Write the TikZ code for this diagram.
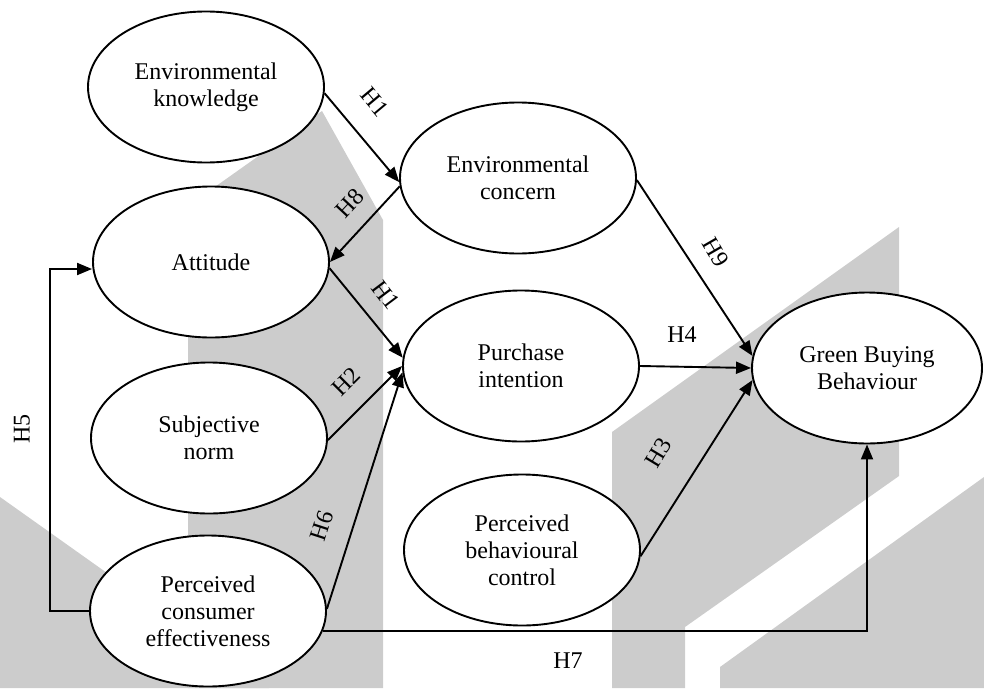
\documentclass[tikz,border=0pt]{standalone}
\usepackage{fontspec}
\setmainfont{Liberation Serif}
\usetikzlibrary{shapes.geometric,arrows.meta}
\definecolor{bandgray}{HTML}{CCCCCC}
\begin{document}
\begin{tikzpicture}[x=1pt,y=-1pt,
  construct/.style={ellipse,draw,line width=1.9pt,fill=white,inner sep=0pt,
    minimum width=236pt,minimum height=151pt,align=center,
    font=\fontsize{24}{27}\selectfont},
  path/.style={line width=1.9pt,-{Triangle[length=15pt,width=12pt]}},
  hyp/.style={font=\fontsize{24}{27}\selectfont,inner sep=0pt}]
\useasboundingbox (0,0) rectangle (984,688);

% background bands
\fill[bandgray] (188,688) -- (188,206) -- (322,111) -- (383,220) -- (383,688) -- cycle;
\fill[bandgray] (0,497) -- (269,688) -- (0,688) -- cycle;
\fill[bandgray] (612,688) -- (612,432) -- (899,227) -- (899,476) -- (685,627) -- (685,688) -- cycle;
\fill[bandgray] (720,688) -- (720,667) -- (984,477) -- (984,688) -- cycle;

% constructs
\node[construct] (ek)  at (206,87)  {Environmental\\knowledge};
\node[construct] (att) at (211,262) {Attitude};
\node[construct] (sn)  at (209,438) {Subjective\\norm};
\node[construct] (pce) at (208,611) {Perceived\\consumer\\effectiveness};
\node[construct] (ec)  at (518,178) {Environmental\\concern};
\node[construct] (pi)  at (521,366) {Purchase\\intention};
\node[construct] (pbc) at (522,550) {Perceived\\behavioural\\control};
\node[construct,minimum width=230pt] (gbb) at (867,368) {Green Buying\\Behaviour};

% corner points of the elbow paths
\coordinate (h5b) at (50,269);
\coordinate (h7a) at (867,630);

% hypothesised paths
\draw[path] (ek.-3) -- (ec.182);
\draw[path] (ec.184) -- (att.0);
\draw[path] (att.-3) -- (pi.176);
\draw[path] (sn.-1) -- (pi.180);
\draw[path] (pce.1) -- (pi.183);
\draw[path] (ec.-1) -- (gbb.174);
\draw[path] (pi.0) -- (gbb.180);
\draw[path] (pbc.-3) -- (gbb.186);
\draw[path] (pce.west) -- (pce.west -| h5b) -- (h5b) -- (att.west |- h5b);
\draw[path] (pce.-10) -- (pce.-10 -| h7a) -- (gbb.south);

% path labels
\node[hyp,rotate=-50] (l1)  at (375,102) {H1};
\node[hyp,rotate=47]  (l8)  at (350,203) {H8};
\node[hyp,rotate=-53] (l1b) at (386,295) {H1};
\node[hyp,rotate=45]  (l2)  at (346,382) {H2};
\node[hyp,rotate=72]  (l6)  at (322,526) {H6};
\node[hyp,rotate=-60] (l9)  at (716,252) {H9};
\node[hyp]            (l4)  at (682,335) {H4};
\node[hyp,rotate=59]  (l3)  at (658,453) {H3};
\node[hyp]            (l7)  at (568,661) {H7};
\node[hyp,rotate=90]  (l5)  at (22,429)  {H5};
\end{tikzpicture}
\end{document}
